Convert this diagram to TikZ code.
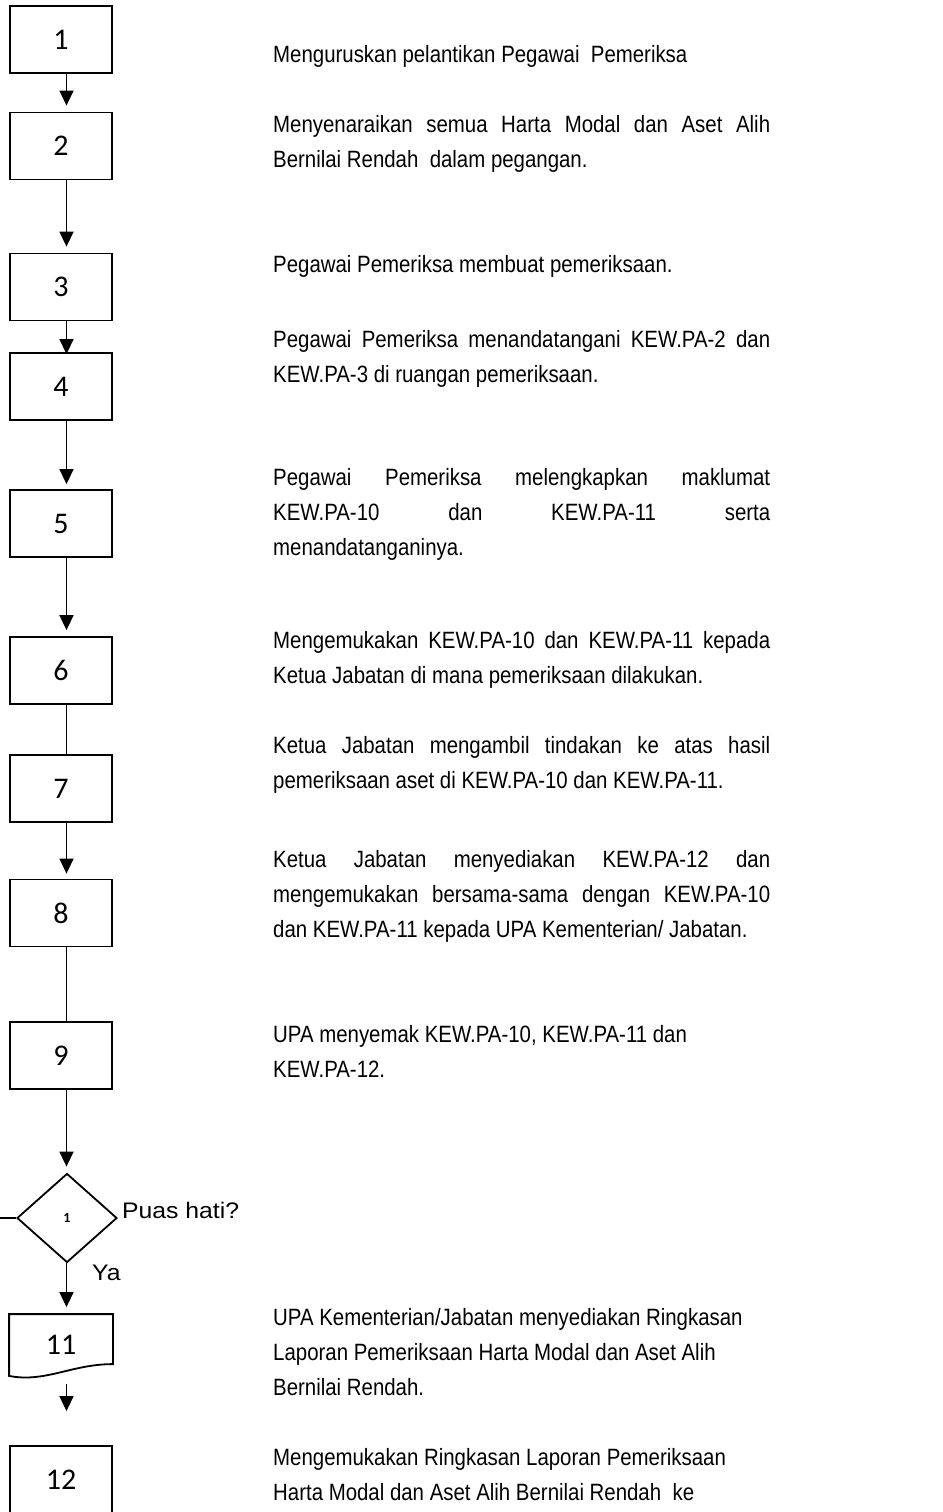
\documentclass[tikz,border=0pt]{standalone}
\usepackage{fontspec}
\newfontfamily\bodyfont[FakeStretch=0.865]{Liberation Sans}
\newfontfamily\labfont[FakeStretch=1.1]{Liberation Sans}
\newfontfamily\numfont{Carlito}
\usetikzlibrary{arrows.meta,shapes.geometric,calc}
\newcommand{\JL}[1]{\makebox[497pt][s]{#1}}
\newcommand{\FS}{\rule{0pt}{20pt}}
\begin{document}
\begin{tikzpicture}[x=1pt,y=-1pt,
  stepbox/.style={draw,line width=1.8pt,minimum width=102pt,minimum height=67pt,inner sep=0pt,font=\numfont\fontsize{30}{30}\selectfont},
  conn/.style={line width=1.5pt},
  arr/.style={conn,-{Triangle[width=14pt,length=15pt]},shorten >=6pt},
  desc/.style={anchor=north west,inner sep=0pt,align=left,font=\bodyfont\fontsize{23.6}{35}\selectfont},
  lab/.style={anchor=base west,inner sep=0pt,font=\labfont\fontsize{22.5}{27}\selectfont},
]
\useasboundingbox (0,0) rectangle (942,1512);
\coordinate (ax) at (66.5,0);
\coordinate (lft) at (0,1218);

% boxes
\node[stepbox] (b1) at (61,39.5) {1};
\node[stepbox] (b2) at (61,146) {2};
\node[stepbox] (b3) at (61,287) {3};
\node[stepbox] (b4) at (61,386.5) {4};
\node[stepbox] (b5) at (61,523.5) {5};
\node[stepbox] (b6) at (61,670.5) {6};
\node[stepbox] (b7) at (61,788.5) {7};
\node[stepbox] (b8) at (61,913) {8};
\node[stepbox] (b9) at (61,1055.5) {9};
\node[draw,diamond,line width=1.8pt,minimum width=100pt,minimum height=89pt,inner sep=0pt,
      font=\numfont\bfseries\fontsize{14}{14}\selectfont] (d) at (67,1218) {1};
\node[stepbox,draw=none,minimum height=60pt] (b11) at (61,1345) {11};
\draw[line width=1.8pt] (b11.north west) -- (b11.north east) -- ($(b11.north east)+(0,50)$)
   .. controls (72,1364) and (45,1383) .. (b11.south west) -- cycle;
\node[stepbox] (b12) at (61,1479.5) {12};

% connectors
\draw[arr] (b1.south -| ax) -- (b2.north -| ax);
\draw[arr] (b2.south -| ax) -- (b3.north -| ax);
\draw[arr,shorten >=-2pt] (b3.south -| ax) -- (b4.north -| ax);
\draw[arr,shorten >=5pt] (b4.south -| ax) -- (b5.north -| ax);
\draw[arr] (b5.south -| ax) -- (b6.north -| ax);
\draw[conn] (b6.south -| ax) -- (b7.north -| ax);
\draw[arr,shorten >=5pt] (b7.south -| ax) -- (b8.north -| ax);
\draw[conn] (b8.south -| ax) -- (b9.north -| ax);
\draw[arr] (b9.south -| ax) -- (d.north -| ax);
\draw[conn] (d.west) -- (lft);
\draw[arr,shorten >=7pt] (d.south -| ax) -- (b11.north -| ax);
\draw[arr,shorten <=8pt,shorten >=34pt] (b11.south -| ax) -- (b12.north -| ax);

% labels
\node[lab] (q) at (122,1218) {Puas hati?};
\node[lab] (ya) at (92,1280) {Ya};

% descriptions
\node[desc] (t1) at (273,42) {\FS Menguruskan pelantikan Pegawai\space\space Pemeriksa};
\node[desc] (t2) at (273,112) {\FS\JL{Menyenaraikan semua Harta Modal dan Aset Alih}\\Bernilai Rendah\space\space dalam pegangan.};
\node[desc] (t3) at (273,252) {\FS Pegawai Pemeriksa membuat pemeriksaan.};
\node[desc] (t4) at (273,327) {\FS\JL{Pegawai Pemeriksa menandatangani KEW.PA-2 dan}\\KEW.PA-3 di ruangan pemeriksaan.};
\node[desc] (t5) at (273,465) {\FS\JL{Pegawai Pemeriksa melengkapkan maklumat}\\\JL{KEW.PA-10 dan KEW.PA-11 serta}\\menandatanganinya.};
\node[desc] (t6) at (273,628) {\FS\JL{Mengemukakan KEW.PA-10 dan KEW.PA-11 kepada}\\Ketua Jabatan di mana pemeriksaan dilakukan.};
\node[desc] (t7) at (273,733) {\FS\JL{Ketua Jabatan mengambil tindakan ke atas hasil}\\pemeriksaan aset di KEW.PA-10 dan KEW.PA-11.};
\node[desc] (t8) at (273,847) {\FS\JL{Ketua Jabatan menyediakan KEW.PA-12 dan}\\\JL{mengemukakan bersama-sama dengan KEW.PA-10}\\dan KEW.PA-11 kepada UPA Kementerian/ Jabatan.};
\node[desc] (t9) at (273,1022) {\FS UPA menyemak KEW.PA-10, KEW.PA-11 dan\\KEW.PA-12.};
\node[desc] (t11) at (273,1305) {\FS UPA Kementerian/Jabatan menyediakan Ringkasan\\Laporan Pemeriksaan Harta Modal dan Aset Alih\\Bernilai Rendah.};
\node[desc] (t12) at (273,1445) {\FS Mengemukakan Ringkasan Laporan Pemeriksaan\\Harta Modal dan Aset Alih Bernilai Rendah\space\space ke};
\end{tikzpicture}
\end{document}
